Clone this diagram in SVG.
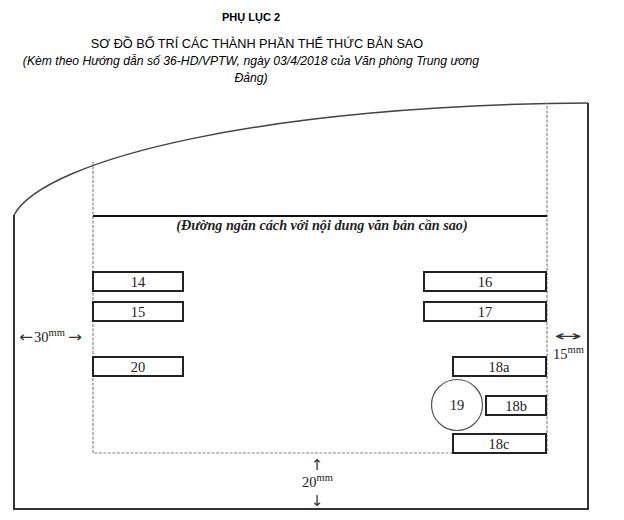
<svg xmlns="http://www.w3.org/2000/svg" width="624" height="520" viewBox="0 0 624 520">
<style>
.h{font-family:"Liberation Sans",Arial,sans-serif;fill:#000}
.s{font-family:"Liberation Serif","Times New Roman",serif;fill:#222}
.box{fill:#fff;stroke:#222;stroke-width:2}
.lbl{font-size:14.5px;text-anchor:middle}
.dash{fill:none;stroke:#888;stroke-width:1.2;stroke-dasharray:3 1.5}
.frame{fill:none;stroke:#333;stroke-width:2}
.arr{font-family:"DejaVu Sans","Liberation Serif",serif;fill:#333;font-size:15px}
.sup{font-size:10.5px}
</style>
<rect width="624" height="520" fill="#fff"/>
<g id="title">
<text class="h" x="251" y="21" font-size="11" font-weight="bold" text-anchor="middle">PHỤ LỤC 2</text>
<text class="h" x="257" y="48" font-size="12.7" text-anchor="middle">SƠ ĐỒ BỐ TRÍ CÁC THÀNH PHẦN THỂ THỨC BẢN SAO</text>
<text class="h" x="251" y="65" font-size="12.2" font-style="italic" text-anchor="middle">(Kèm theo Hướng dẫn số 36-HD/VPTW, ngày 03/4/2018 của Văn phòng Trung ương</text>
<text class="h" x="251" y="82" font-size="12.2" font-style="italic" text-anchor="middle">Đảng)</text>
</g>
<g id="page">
<path d="M14,215 C45,158 270,105 588,103" fill="none" stroke="#444" stroke-width="1.5"/>
<path class="frame" d="M588,103 L588,509 L14,509 L14,215"/>
<path class="dash" d="M93,162 L93,453 L547,453 L547,103"/>
<line x1="93" y1="216" x2="547" y2="216" stroke="#111" stroke-width="2"/>
<text class="s" x="322" y="230" font-size="14.2" font-style="italic" font-weight="bold" fill="#444" text-anchor="middle">(Đường ngăn cách với nội dung văn bản cần sao)</text>
</g>
<g id="connectors">
<g id="dim-left">
<text class="arr" x="19" y="342" textLength="14" lengthAdjust="spacingAndGlyphs">←</text>
<text class="s" x="34" y="342" font-size="14.5">30<tspan class="sup" dy="-6">mm</tspan></text>
<text class="arr" x="68" y="342" textLength="14" lengthAdjust="spacingAndGlyphs">→</text>
</g>
<g id="dim-right">
<text class="arr" x="554" y="341" textLength="28" lengthAdjust="spacingAndGlyphs">↔</text>
<text class="s" x="553" y="359" font-size="14.5">15<tspan class="sup" dy="-6">mm</tspan></text>
</g>
<g id="dim-bottom">
<text class="arr" x="317" y="470" text-anchor="middle">↑</text>
<text class="s" x="302" y="487" font-size="14.5">20<tspan class="sup" dy="-6">mm</tspan></text>
<text class="arr" x="317" y="506" text-anchor="middle">↓</text>
</g>
</g>
<g id="n14"><rect class="box" x="93" y="272" width="90" height="19"/><text class="s lbl" x="138" y="287">14</text></g>
<g id="n15"><rect class="box" x="93" y="302" width="90" height="19"/><text class="s lbl" x="138" y="317">15</text></g>
<g id="n20"><rect class="box" x="93" y="357" width="90" height="19"/><text class="s lbl" x="138" y="372">20</text></g>
<g id="n16"><rect class="box" x="424" y="272" width="122" height="19"/><text class="s lbl" x="485" y="287">16</text></g>
<g id="n17"><rect class="box" x="424" y="302" width="122" height="19"/><text class="s lbl" x="485" y="317">17</text></g>
<g id="n18a"><rect class="box" x="453" y="357" width="93" height="19"/><text class="s lbl" x="499" y="372">18a</text></g>
<g id="n18b"><rect class="box" x="486" y="396" width="60" height="19"/><text class="s lbl" x="516" y="411">18b</text></g>
<g id="n18c"><rect class="box" x="453" y="434" width="93" height="19"/><text class="s lbl" x="499" y="449">18c</text></g>
<g id="n19"><circle cx="457" cy="405" r="25.5" fill="#fff" stroke="#555" stroke-width="1.2"/><text class="s lbl" x="457" y="410">19</text></g>
</svg>
